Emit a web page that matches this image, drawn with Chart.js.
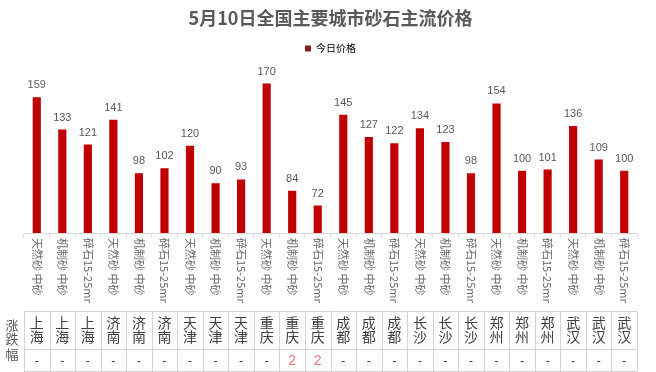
<!DOCTYPE html>
<html>
<head>
<meta charset="utf-8">
<script src="https://cdn.jsdelivr.net/npm/chart.js@4"></script>
<style>
  html, body { margin: 0; padding: 0; background: #ffffff; }
  #wrap { width: 656px; height: 372px; position: relative; }
</style>
</head>
<body>
<div id="wrap"><canvas id="c" width="656" height="372"></canvas></div>
<script>
// ---- data ----
const chartTitle = '5月10日全国主要城市砂石主流价格';
const seriesName = '今日价格';
const cities = ['上海', '济南', '天津', '重庆', '成都', '长沙', '郑州', '武汉'];
const products = ['天然砂 中砂', '机制砂 中砂', '碎石15-25mm'];
const prices = [159, 133, 121, 141, 98, 102, 120, 90, 93, 170, 84, 72,
                145, 127, 122, 134, 123, 98, 154, 100, 101, 136, 109, 100];
const changes = ['-', '-', '-', '-', '-', '-', '-', '-', '-', '-', '2', '2',
                 '-', '-', '-', '-', '-', '-', '-', '-', '-', '-', '-', '-'];
const tableRowLabel = '涨跌幅';

// build per-bar category lists
const categoryCity = [];
const categoryProduct = [];
cities.forEach(c => products.forEach(p => { categoryCity.push(c); categoryProduct.push(p); }));
const labels = categoryCity.map((c, i) => c + ' ' + categoryProduct[i]);

const CJK = '"Noto Sans CJK SC", "Noto Sans", sans-serif';
const LAT = '"Liberation Sans", Arial, sans-serif';

const customDraw = {
  id: 'customDraw',
  afterDraw(chart) {
    const ctx = chart.ctx;
    const xs = chart.scales.x;
    const ys = chart.scales.y;
    const meta = chart.getDatasetMeta(0);
    const n = labels.length;
    const w = (chart.chartArea.right - chart.chartArea.left) / n;

    // value labels above bars
    ctx.save();
    ctx.font = '11px ' + LAT;
    ctx.fillStyle = '#595959';
    ctx.textAlign = 'center';
    ctx.textBaseline = 'middle';
    meta.data.forEach((bar, i) => {
      ctx.fillText(String(prices[i]), bar.x, bar.y - 12);
    });
    ctx.restore();

    // vertical category labels (rotated clockwise)
    ctx.save();
    ctx.font = '11px ' + CJK;
    ctx.fillStyle = '#6b6b6b';
    ctx.textAlign = 'left';
    ctx.textBaseline = 'middle';
    for (let i = 0; i < n; i++) {
      const x = xs.getPixelForValue(i);
      ctx.save();
      ctx.translate(x, xs.top + 5);
      ctx.rotate(Math.PI / 2);
      ctx.fillText(categoryProduct[i], 0, 0);
      ctx.restore();
    }
    ctx.restore();

    // table
    const tTop = 311.5, tMid = 349.5, tBot = 371.5;
    const left = xs.getPixelForValue(0) - w / 2;
    const right = xs.getPixelForValue(n - 1) + w / 2;
    ctx.save();
    ctx.fillStyle = '#ffffff';
    ctx.fillRect(0, 303, 656, 69);
    ctx.strokeStyle = '#d4d4d4';
    ctx.lineWidth = 1;
    ctx.beginPath();
    [tTop, tMid, tBot].forEach(y => { ctx.moveTo(left, y); ctx.lineTo(right, y); });
    for (let i = 0; i <= n; i++) {
      const x = Math.round(left + i * w) + 0.5;
      ctx.moveTo(x, tTop); ctx.lineTo(x, tBot);
    }
    ctx.stroke();

    ctx.textAlign = 'center';
    ctx.textBaseline = 'middle';
    ctx.font = '14px ' + CJK;
    ctx.fillStyle = '#404040';
    for (let i = 0; i < n; i++) {
      const x = xs.getPixelForValue(i);
      const c = categoryCity[i];
      ctx.fillText(c[0], x, 323);
      ctx.fillText(c[1], x, 337);
      const v = changes[i];
      ctx.font = (v === '-' ? '13px ' : '14px ') + LAT;
      ctx.fillStyle = v === '-' ? '#404040' : '#e07a7a';
      ctx.fillText(v, x, 361);
      ctx.font = '14px ' + CJK;
      ctx.fillStyle = '#404040';
    }
    // row label
    ctx.font = '13px ' + CJK;
    ctx.fillStyle = '#595959';
    const rl = tableRowLabel.split('');
    [325, 339, 354].forEach((y, k) => ctx.fillText(rl[k], 12, y));
    ctx.restore();
  }
};

new Chart(document.getElementById('c'), {
  type: 'bar',
  data: {
    labels: labels,
    datasets: [{
      label: seriesName,
      data: prices,
      backgroundColor: '#c00000',
      borderWidth: 0,
      categoryPercentage: 1.0,
      barPercentage: 0.32
    }]
  },
  options: {
    responsive: false,
    animation: false,
    devicePixelRatio: 1,
    layout: { padding: { left: 24, right: 19, top: 0, bottom: 0 } },
    plugins: {
      title: {
        display: true,
        text: chartTitle,
        color: '#595959',
        font: { family: CJK, size: 18, weight: 'bold', lineHeight: 1.2 },
        padding: { top: 7, bottom: 7 }
      },
      legend: {
        display: true,
        position: 'top',
        labels: {
          boxWidth: 6,
          boxHeight: 6,
          padding: 8,
          color: '#595959',
          font: { family: CJK, size: 10 },
          generateLabels: () => [{
            text: seriesName, fillStyle: '#8b1a1a', strokeStyle: '#8b1a1a',
            lineWidth: 0, hidden: false, datasetIndex: 0
          }]
        }
      },
      tooltip: { enabled: false }
    },
    scales: {
      x: {
        offset: true,
        afterFit: (s) => { s.height = 139; },
        ticks: { display: false },
        grid: { display: true, drawOnChartArea: false, drawTicks: true, tickLength: 4, color: '#d9d9d9', offset: true },
        border: { display: true, color: '#d9d9d9' }
      },
      y: {
        display: false,
        min: 50,
        max: 186
      }
    }
  },
  plugins: [customDraw]
});
</script>
</body>
</html>
